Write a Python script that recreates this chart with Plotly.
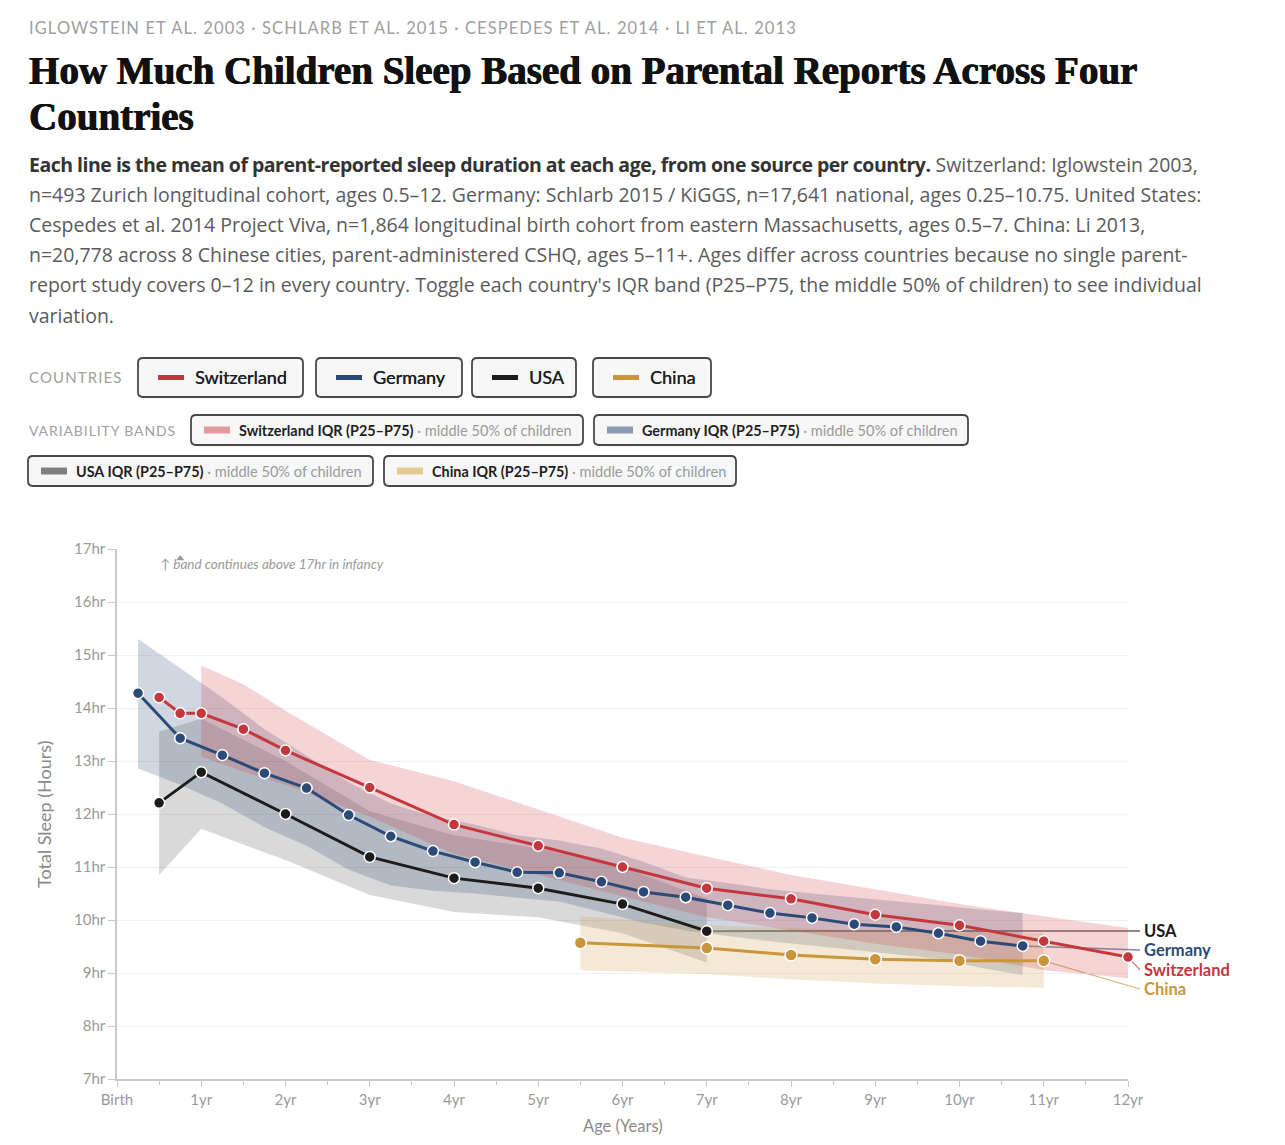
import plotly.graph_objects as go

# ---------------- DATA ----------------
# Switzerland (Iglowstein 2003)
ch_age = [0.5, 0.75, 1, 1.5, 2, 3, 4, 5, 6, 7, 8, 9, 10, 11, 12]
ch_mean = [14.2, 13.9, 13.9, 13.6, 13.2, 12.5, 11.8, 11.4, 11.0, 10.6, 10.4, 10.1, 9.9, 9.6, 9.3]
ch_band_age = [1, 1.5, 2, 3, 4, 5, 6, 7, 8, 9, 10, 11, 12]
ch_p75 = [14.8, 14.45, 13.95, 13.02, 12.62, 12.08, 11.55, 11.2, 10.85, 10.58, 10.3, 10.07, 9.85]
ch_p25 = [13.08, 12.8, 12.55, 11.95, 11.25, 10.85, 10.45, 10.05, 9.8, 9.55, 9.35, 9.05, 8.9]

# Germany (Schlarb 2015 / KiGGS)
de_age = [0.25, 0.75, 1.25, 1.75, 2.25, 2.75, 3.25, 3.75, 4.25, 4.75, 5.25,
          5.75, 6.25, 6.75, 7.25, 7.75, 8.25, 8.75, 9.25, 9.75, 10.25, 10.75]
de_mean = [14.28, 13.43, 13.11, 12.77, 12.49, 11.98, 11.58, 11.3, 11.09, 10.9, 10.89,
           10.72, 10.53, 10.43, 10.28, 10.13, 10.04, 9.92, 9.87, 9.75, 9.6, 9.51]
de_p75 = [15.3, 14.75, 14.2, 13.6, 13.1, 12.6, 12.2, 11.95, 11.8, 11.6, 11.5,
          11.35, 11.1, 10.8, 10.7, 10.58, 10.5, 10.43, 10.36, 10.28, 10.2, 10.13]
de_p25 = [12.86, 12.55, 12.2, 11.75, 11.4, 10.95, 10.65, 10.55, 10.5, 10.42, 10.35,
          10.15, 9.95, 9.8, 9.7, 9.6, 9.52, 9.43, 9.35, 9.27, 9.1, 8.96]

# USA (Cespedes 2014, Project Viva)
us_age = [0.5, 1, 2, 3, 4, 5, 6, 7]
us_mean = [12.21, 12.79, 12.0, 11.19, 10.79, 10.6, 10.3, 9.79]
us_p75 = [13.55, 13.8, 13.0, 12.05, 11.6, 11.35, 11.0, 10.4]
us_p25 = [10.85, 11.72, 11.13, 10.47, 10.15, 10.05, 9.75, 9.2]

# China (Li 2013)
cn_age = [5.5, 7, 8, 9, 10, 11]
cn_mean = [9.57, 9.47, 9.34, 9.26, 9.23, 9.23]
cn_p75 = [10.07, 9.9, 9.85, 9.8, 9.78, 9.75]
cn_p25 = [9.05, 8.98, 8.88, 8.8, 8.75, 8.72]

x_ticks = list(range(13))
x_labels = ["Birth"] + [f"{i}yr" for i in range(1, 13)]
y_ticks = list(range(7, 18))
y_labels = [f"{v}hr" for v in y_ticks]

countries = ["Switzerland", "Germany", "USA", "China"]
line_colors = {"Switzerland": "#c4383d", "Germany": "#2b4a77", "USA": "#1c1c1c", "China": "#c9963b"}
band_fills = {"Switzerland": "rgba(205,60,66,0.22)", "Germany": "rgba(44,74,118,0.22)",
              "USA": "rgba(30,30,30,0.17)", "China": "rgba(205,155,70,0.22)"}
swatch_band = {"Switzerland": "#e29a9d", "Germany": "#8b9bb3", "USA": "#808080", "China": "#e3c993"}
leader_colors = {"Switzerland": "#d8777b", "Germany": "#7f8ea8", "USA": "#8c8c8c", "China": "#d9b77c"}

# ---------------- LAYOUT GEOMETRY ----------------
W, H = 1269, 1129
OFF = 8
ML, MR, MT, MB = 109, 149, 541, 58
PW = W - ML - MR
PH = H - MT - MB
X0, X1 = 0, 12
Y0, Y1 = 7, 17

SANS = "Lato"
WIDE = "Open Sans"


def px(xs):
    return (xs - OFF - ML) / PW


def py(ys):
    return (H - MB - (ys - OFF)) / PH


def dx(v):
    return (v - X0) / (X1 - X0)


def dy(v):
    return (v - Y0) / (Y1 - Y0)


fig = go.Figure()


def add_band(x, lo, hi, color):
    fig.add_trace(go.Scatter(x=x + x[::-1], y=hi + lo[::-1], fill="toself", fillcolor=color,
                             line=dict(width=0), mode="lines", hoverinfo="skip", showlegend=False))


add_band(us_age, us_p25, us_p75, band_fills["USA"])
add_band(de_age, de_p25, de_p75, band_fills["Germany"])
add_band(cn_age, cn_p25, cn_p75, band_fills["China"])
add_band(ch_band_age, ch_p25, ch_p75, band_fills["Switzerland"])


def add_line(x, y, name, msize=11):
    fig.add_trace(go.Scatter(x=x, y=y, mode="lines+markers", name=name,
                             line=dict(color=line_colors[name], width=3),
                             marker=dict(size=msize, color=line_colors[name], line=dict(color="white", width=1.5)),
                             cliponaxis=False, showlegend=False))


add_line(cn_age, cn_mean, "China", 12)
add_line(us_age, us_mean, "USA")
add_line(de_age, de_mean, "Germany")
add_line(ch_age, ch_mean, "Switzerland")

# clipped-band marker
fig.add_trace(go.Scatter(x=[0.75], y=[16.82], mode="markers",
                         marker=dict(symbol="triangle-up", size=7, color="#9a9a9a"),
                         showlegend=False, hoverinfo="skip", cliponaxis=False))

shapes = []
ann = []

# leader lines and end labels
last = {"USA": (us_age[-1], us_mean[-1]), "Germany": (de_age[-1], de_mean[-1]),
        "Switzerland": (ch_age[-1], ch_mean[-1]), "China": (cn_age[-1], cn_mean[-1])}
label_y = {"USA": 931, "Germany": 950, "Switzerland": 970, "China": 989}
lw = {"USA": 2, "Germany": 1.5, "Switzerland": 1.2, "China": 1.2}
for c in ["USA", "Germany", "Switzerland", "China"]:
    ax, ay = last[c]
    shapes.append(dict(type="line", xref="paper", yref="paper", x0=dx(ax), y0=dy(ay),
                       x1=px(1140), y1=py(label_y[c]), line=dict(color=leader_colors[c], width=lw[c]), layer="below"))
    ann.append(dict(xref="paper", yref="paper", x=px(1142), y=py(label_y[c]), text=f"<b>{c}</b>",
                    showarrow=False, xanchor="left", yanchor="middle",
                    font=dict(family=SANS, size=16.5, color=line_colors[c])))

# chart annotation
ann.append(dict(xref="paper", yref="paper", x=px(158), y=py(564), text="↑ band continues above 17hr in infancy",
                showarrow=False, xanchor="left", yanchor="middle",
                font=dict(family=SANS, size=13.5, color="#9a9a9a", style="italic")))

# axis titles
ann.append(dict(xref="paper", yref="paper", x=px(44), y=py(814), text="Total Sleep (Hours)", textangle=-90,
                showarrow=False, xanchor="center", yanchor="middle",
                font=dict(family=SANS, size=18, color="#8a8a8a")))
ann.append(dict(xref="paper", yref="paper", x=px(623), y=py(1126), text="Age (Years)",
                showarrow=False, xanchor="center", yanchor="middle",
                font=dict(family=SANS, size=16.5, color="#8a8a8a")))

# header texts
ann.append(dict(xref="paper", yref="paper", x=px(27), y=py(28),
                text="<span style='letter-spacing:1.1px'>IGLOWSTEIN ET AL. 2003 · SCHLARB ET AL. 2015 · CESPEDES ET AL. 2014 · LI ET AL. 2013</span>",
                showarrow=False, xanchor="left", yanchor="middle",
                font=dict(family=SANS, size=16.5, color="#9e9e9e")))
title_lines = ["How Much Children Sleep Based on Parental Reports Across Four", "Countries"]
for i, t in enumerate(title_lines):
    ann.append(dict(xref="paper", yref="paper", x=px(27), y=py(71 + 45 * i), text=f"<b>{t}</b>",
                    showarrow=False, xanchor="left", yanchor="middle",
                    font=dict(family="Liberation Serif", size=39, color="#111111",
                              shadow="0.6px 0px 0px #111111, -0.4px 0px 0px #111111")))

para = [
    "<b><span style='color:#333333;letter-spacing:-0.5px'>Each line is the mean of parent-reported sleep duration at each age, from one source per country.</span></b> Switzerland: Iglowstein 2003,",
    "n=493 Zurich longitudinal cohort, ages 0.5–12. Germany: Schlarb 2015 / KiGGS, n=17,641 national, ages 0.25–10.75. United States:",
    "Cespedes et al. 2014 Project Viva, n=1,864 longitudinal birth cohort from eastern Massachusetts, ages 0.5–7. China: Li 2013,",
    "n=20,778 across 8 Chinese cities, parent-administered CSHQ, ages 5–11+. Ages differ across countries because no single parent-",
    "report study covers 0–12 in every country. Toggle each country's IQR band (P25–P75, the middle 50% of children) to see individual",
    "variation.",
]
for i, t in enumerate(para):
    ann.append(dict(xref="paper", yref="paper", x=px(27), y=py(164 + 30.2 * i), text=t,
                    showarrow=False, xanchor="left", yanchor="middle",
                    font=dict(family=WIDE, size=19.5, color="#5a5a5a")))


# buttons
def rrect(x0, y0, x1, y1, r=5):
    X = lambda v: px(v)
    Y = lambda v: py(v)
    p = (f"M {X(x0 + r)},{Y(y0)} L {X(x1 - r)},{Y(y0)} Q {X(x1)},{Y(y0)} {X(x1)},{Y(y0 + r)} "
         f"L {X(x1)},{Y(y1 - r)} Q {X(x1)},{Y(y1)} {X(x1 - r)},{Y(y1)} "
         f"L {X(x0 + r)},{Y(y1)} Q {X(x0)},{Y(y1)} {X(x0)},{Y(y1 - r)} "
         f"L {X(x0)},{Y(y0 + r)} Q {X(x0)},{Y(y0)} {X(x0 + r)},{Y(y0)} Z")
    return dict(type="path", xref="paper", yref="paper", path=p, fillcolor="#f7f7f7",
                line=dict(color="#474747", width=1.8), layer="above")


ann.append(dict(xref="paper", yref="paper", x=px(27), y=py(377),
                text="<span style='letter-spacing:1.1px'>COUNTRIES</span>",
                showarrow=False, xanchor="left", yanchor="middle",
                font=dict(family=SANS, size=15, color="#a0a0a0")))
ann.append(dict(xref="paper", yref="paper", x=px(27), y=py(430),
                text="<span style='letter-spacing:0.9px'>VARIABILITY BANDS</span>",
                showarrow=False, xanchor="left", yanchor="middle",
                font=dict(family=SANS, size=14, color="#a0a0a0")))

country_btn = {"Switzerland": (138, 303), "Germany": (316, 462), "USA": (472, 576), "China": (593, 711)}
for c in countries:
    b0, b1 = country_btn[c]
    shapes.append(rrect(b0, 358, b1, 397))
    shapes.append(dict(type="line", xref="paper", yref="paper", x0=px(b0 + 20), x1=px(b0 + 46),
                       y0=py(377.5), y1=py(377.5), line=dict(color=line_colors[c], width=5), layer="above"))
    ann.append(dict(xref="paper", yref="paper", x=px(b0 + 55), y=py(377.5), text=c,
                    showarrow=False, xanchor="left", yanchor="middle",
                    font=dict(family=SANS, size=18, color="#1e1e1e", shadow="0.3px 0px 0px #1e1e1e")))

band_btn = {"Switzerland": (191, 583, 415, 445), "Germany": (594, 968, 415, 445),
            "USA": (28, 373, 456, 486), "China": (384, 736, 456, 486)}
for c in countries:
    b0, b1, t0, t1 = band_btn[c]
    yc = (t0 + t1) / 2
    shapes.append(rrect(b0, t0, b1, t1))
    shapes.append(dict(type="line", xref="paper", yref="paper", x0=px(b0 + 13), x1=px(b0 + 39),
                       y0=py(yc), y1=py(yc), line=dict(color=swatch_band[c], width=7), layer="above"))
    ann.append(dict(xref="paper", yref="paper", x=px(b0 + 46), y=py(yc),
                    text=f"<b>{c} IQR (P25–P75)</b> <span style='color:#9a9a9a;font-size:14.6px'>· middle 50% of children</span>",
                    showarrow=False, xanchor="left", yanchor="middle",
                    font=dict(family=SANS, size=14.4, color="#1e1e1e")))

fig.update_layout(
    width=W, height=H,
    margin=dict(l=ML, r=MR, t=MT, b=MB, autoexpand=False),
    paper_bgcolor="white", plot_bgcolor="white",
    font=dict(family=SANS, color="#999999"),
    showlegend=False,
    shapes=shapes,
    annotations=ann,
    xaxis=dict(range=[X0, X1], tickmode="array", tickvals=x_ticks, ticktext=x_labels,
               ticks="outside", ticklen=6, tickcolor="#c8c8c8", tickwidth=1.2,
               showline=True, linecolor="#c8c8c8", linewidth=1.5, showgrid=False, zeroline=False,
               tickfont=dict(family=SANS, size=15, color="#9a9a9a"),
               minor=dict(tickmode="array", tickvals=[i + 0.5 for i in range(12)], ticks="outside",
                          ticklen=4, tickcolor="#c8c8c8", showgrid=False)),
    yaxis=dict(range=[Y0, Y1], tickmode="array", tickvals=y_ticks, ticktext=y_labels,
               ticks="outside", ticklen=7, tickcolor="#c8c8c8", tickwidth=1.2,
               showline=True, linecolor="#c8c8c8", linewidth=1.5, gridcolor="#f0f0f0", zeroline=False,
               tickfont=dict(family=SANS, size=15, color="#9a9a9a")),
)

fig.write_html("out.html")
